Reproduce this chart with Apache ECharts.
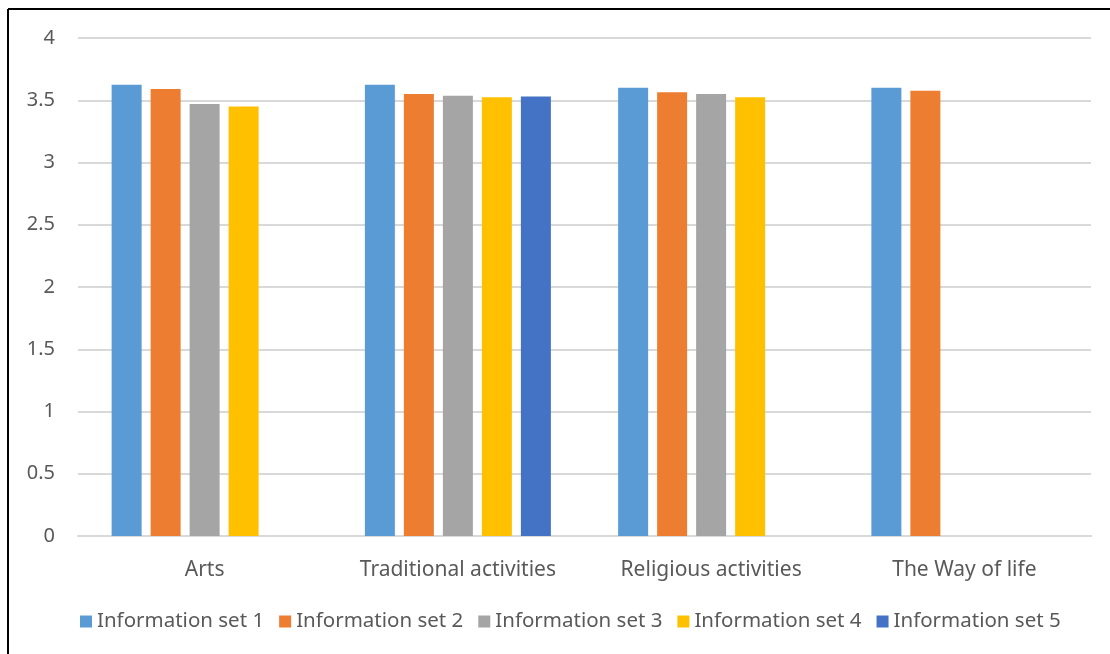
<!DOCTYPE html>
<html>
<head>
<meta charset="utf-8">
<script src="https://cdn.jsdelivr.net/npm/echarts@6/dist/echarts.min.js"></script>
<style>
  html, body { margin: 0; padding: 0; background: #fff; }
  #chart { width: 1110px; height: 654px; }
</style>
</head>
<body>
<div id="chart"></div>
<script>
const categories = ['Arts', 'Traditional activities', 'Religious activities', 'The Way of life']
const seriesNames = ['Information set 1', 'Information set 2', 'Information set 3', 'Information set 4', 'Information set 5']
const set1 = [3.625, 3.625, 3.6, 3.6]
const set2 = [3.59, 3.55, 3.565, 3.577]
const set3 = [3.47, 3.537, 3.55, null]
const set4 = [3.45, 3.524, 3.524, null]
const set5 = [null, 3.53, null, null]
const yTicks = [0, 0.5, 1, 1.5, 2, 2.5, 3, 3.5, 4]

const colors = ['#5b9bd5', '#ed7d31', '#a5a5a5', '#ffc000', '#4472c4']
const font = 'Noto Sans'

const chart = echarts.init(document.getElementById('chart'))
const values = [set1, set2, set3, set4, set5]

chart.setOption({
  animation: false,
  color: colors,
  grid: {
    left: 78,
    right: 19,
    top: 38,
    bottom: 118,
    containLabel: false
  },
  legend: {
    data: seriesNames,
    left: 75,
    top: 606,
    icon: 'rect',
    itemWidth: 12,
    itemHeight: 12,
    itemGap: 15,
    textStyle: { color: '#595959', fontSize: 20.5, fontFamily: font }
  },
  xAxis: {
    type: 'category',
    data: categories,
    axisTick: { show: false },
    axisLine: { lineStyle: { color: '#d9d9d9', width: 2 } },
    axisLabel: { color: '#595959', fontSize: 21, fontFamily: font, margin: 24, interval: 0 }
  },
  yAxis: {
    type: 'value',
    min: yTicks[0],
    max: yTicks[yTicks.length - 1],
    interval: 0.5,
    axisLine: { show: false },
    axisTick: { show: false },
    splitLine: { lineStyle: { color: '#d9d9d9', width: 2 } },
    axisLabel: { color: '#595959', fontSize: 20, fontFamily: font, margin: 23 }
  },
  series: seriesNames.map((name, i) => ({
    name: name,
    type: 'bar',
    data: values[i],
    barWidth: 30,
    barGap: '30%'
  })),
  graphic: [
    { type: 'line', shape: { x1: 8, y1: 9, x2: 1110, y2: 9 }, style: { stroke: '#000', lineWidth: 2 } },
    { type: 'line', shape: { x1: 8, y1: 9, x2: 8, y2: 654 }, style: { stroke: '#000', lineWidth: 2 } }
  ]
})
</script>
</body>
</html>
